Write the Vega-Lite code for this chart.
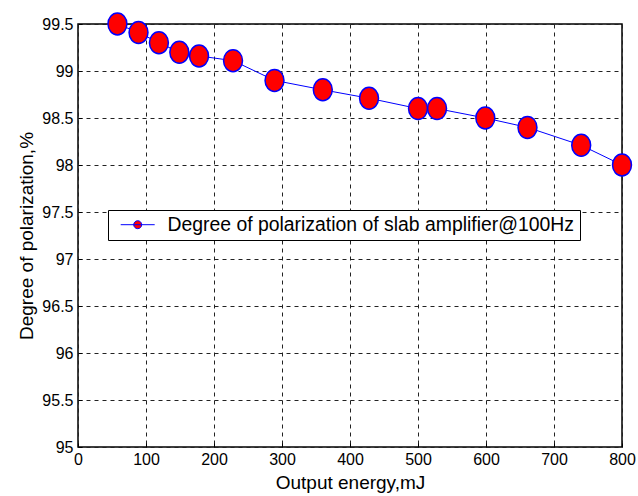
{
  "$schema": "https://vega.github.io/schema/vega-lite/v6.json",
  "width": 544,
  "height": 423,
  "autosize": {"type": "none"},
  "padding": {"left": 78, "top": 24, "right": 16, "bottom": 49},
  "background": "white",
  "config": {
    "font": "Liberation Sans",
    "view": {"stroke": "black", "strokeWidth": 1.5},
    "axis": {
      "domain": false,
      "ticks": true,
      "tickSize": -4,
      "tickColor": "black",
      "tickWidth": 1,
      "grid": true,
      "gridColor": "#222",
      "gridDash": [4, 4],
      "gridWidth": 1,
      "gridOpacity": 1,
      "labelColor": "black",
      "labelFontSize": 16,
      "titleColor": "black",
      "titleFontSize": 19,
      "titleFontWeight": "normal"
    }
  },
  "data": {
    "values": [
      {"energy": 58, "dop": 99.5, "series": "Degree of polarization of slab amplifier@100Hz"},
      {"energy": 89, "dop": 99.41, "series": "Degree of polarization of slab amplifier@100Hz"},
      {"energy": 119, "dop": 99.3, "series": "Degree of polarization of slab amplifier@100Hz"},
      {"energy": 149, "dop": 99.2, "series": "Degree of polarization of slab amplifier@100Hz"},
      {"energy": 178, "dop": 99.16, "series": "Degree of polarization of slab amplifier@100Hz"},
      {"energy": 228, "dop": 99.11, "series": "Degree of polarization of slab amplifier@100Hz"},
      {"energy": 289, "dop": 98.9, "series": "Degree of polarization of slab amplifier@100Hz"},
      {"energy": 360, "dop": 98.8, "series": "Degree of polarization of slab amplifier@100Hz"},
      {"energy": 428, "dop": 98.71, "series": "Degree of polarization of slab amplifier@100Hz"},
      {"energy": 500, "dop": 98.6, "series": "Degree of polarization of slab amplifier@100Hz"},
      {"energy": 528, "dop": 98.6, "series": "Degree of polarization of slab amplifier@100Hz"},
      {"energy": 599, "dop": 98.5, "series": "Degree of polarization of slab amplifier@100Hz"},
      {"energy": 661, "dop": 98.4, "series": "Degree of polarization of slab amplifier@100Hz"},
      {"energy": 740, "dop": 98.21, "series": "Degree of polarization of slab amplifier@100Hz"},
      {"energy": 800, "dop": 98.0, "series": "Degree of polarization of slab amplifier@100Hz"}
    ]
  },
  "encoding": {
    "x": {
      "field": "energy",
      "type": "quantitative",
      "scale": {"domain": [0, 800], "nice": false},
      "axis": {"values": [0, 100, 200, 300, 400, 500, 600, 700, 800], "title": "Output energy,mJ", "labelPadding": 8, "titlePadding": 6, "labelFlush": false}
    },
    "y": {
      "field": "dop",
      "type": "quantitative",
      "scale": {"domain": [95, 99.5], "nice": false, "zero": false},
      "axis": {"values": [95, 95.5, 96, 96.5, 97, 97.5, 98, 98.5, 99, 99.5], "format": "~f", "title": "Degree of polarization,%", "labelPadding": 9, "titlePadding": 5, "labelFlush": false}
    }
  },
  "layer": [
    {
      "mark": {"type": "line", "color": "blue", "strokeWidth": 1},
      "encoding": {
        "color": {
          "field": "series",
          "type": "nominal",
          "scale": {"range": ["blue"]},
          "legend": {
            "title": null,
            "orient": "none",
            "legendX": 30,
            "legendY": 186,
            "strokeColor": "black",
            "fillColor": "white",
            "padding": 5,
            "symbolType": "M-2,0H2M-0.47,0A0.47,0.47 0 1,1 0.47,0A0.47,0.47 0 1,1 -0.47,0Z",
            "symbolSize": 289,
            "symbolOffset": 15,
            "symbolStrokeWidth": 1,
            "labelFontSize": 19.4,
            "labelColor": "black",
            "labelOffset": 20,
            "labelLimit": 600,
            "encode": {
              "symbols": {"update": {"fill": {"value": "red"}, "stroke": {"value": "blue"}, "strokeWidth": {"value": 1}, "opacity": {"value": 1}}}
            }
          }
        }
      }
    },
    {
      "mark": {
        "type": "point",
        "shape": "M0,-1A0.86,1 0 1,1 0,1A0.86,1 0 1,1 0,-1Z",
        "size": 484,
        "filled": true,
        "fill": "red",
        "stroke": "blue",
        "strokeWidth": 1.5,
        "opacity": 1,
        "fillOpacity": 1,
        "strokeOpacity": 1
      }
    }
  ]
}
